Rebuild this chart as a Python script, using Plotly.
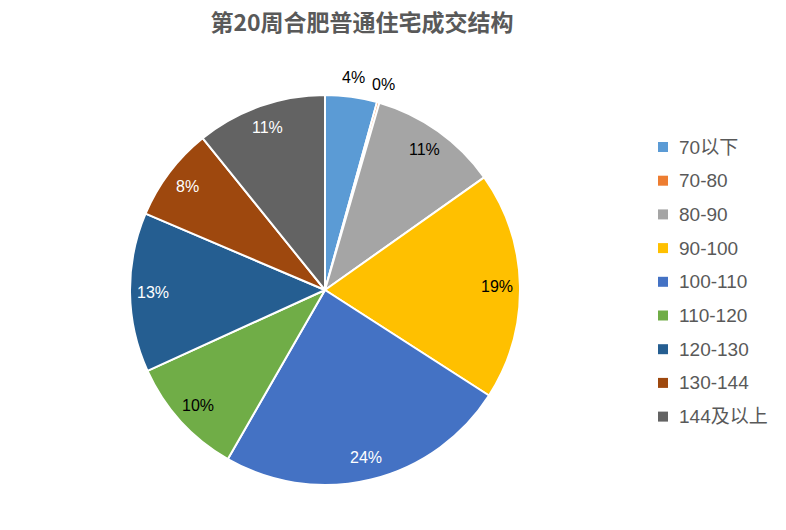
import numpy as np
import plotly.graph_objects as go

categories = ["70以下", "70-80", "80-90", "90-100", "100-110", "110-120", "120-130", "130-144", "144及以上"]
values = [4.3, 0.2, 10.7, 18.9, 24.2, 9.9, 13.2, 7.8, 10.8]
colors = ["#5B9BD5", "#ED7D31", "#A5A5A5", "#FFC000", "#4472C4", "#70AD47", "#255E91", "#9E480E", "#636363"]
label_colors = ["#000000", "#000000", "#000000", "#000000", "#FFFFFF", "#000000", "#FFFFFF", "#FFFFFF", "#FFFFFF"]
label_outside = [True, True, False, False, False, False, False, False, False]
title = "第20周合肥普通住宅成交结构"

W, H = 786, 530
cx, cy, R = 325, 290, 195
r_in, r_out = 172, 214

fig = go.Figure()
fig.add_trace(go.Pie(
    labels=categories, values=values, sort=False, direction="clockwise", rotation=0,
    marker=dict(colors=colors, line=dict(color="#FFFFFF", width=2)),
    textinfo="none", hoverinfo="label+percent", showlegend=False,
    domain=dict(x=[(cx - R) / W, (cx + R) / W], y=[(H - cy - R) / H, (H - cy + R) / H]),
))

total = sum(values)
cum = 0.0
annotations = []
for v, col, out in zip(values, label_colors, label_outside):
    mid = (cum + v / 2) / total
    cum += v
    th = 2 * np.pi * mid
    r = r_out if out else r_in
    px = cx + r * np.sin(th)
    py = cy - r * np.cos(th)
    annotations.append(dict(
        x=px / W, y=1 - py / H, xref="paper", yref="paper", showarrow=False,
        text=f"{round(v / total * 100):.0f}%", font=dict(size=16, color=col, family="Liberation Sans, Arial"),
        xanchor="center", yanchor="middle",
    ))

# legend drawn as markers + text
lx, ly0, lstep, msz = 658, 147, 33.7, 10
shapes = []
for i, (cat, col) in enumerate(zip(categories, colors)):
    yc = ly0 + i * lstep
    shapes.append(dict(type="rect", xref="paper", yref="paper",
                       x0=lx / W, x1=(lx + msz) / W, y0=1 - (yc + msz / 2) / H, y1=1 - (yc - msz / 2) / H,
                       fillcolor=col, line=dict(width=0)))
    annotations.append(dict(
        x=(lx + msz + 9) / W, y=1 - yc / H, xref="paper", yref="paper", showarrow=False,
        text=cat, xanchor="left", yanchor="middle",
        font=dict(size=19, color="#595959", family="Liberation Sans, Noto Sans CJK SC"),
    ))

fig.update_layout(
    width=W, height=H, margin=dict(l=0, r=0, t=0, b=0),
    paper_bgcolor="#FFFFFF", plot_bgcolor="#FFFFFF",
    title=dict(text=f"<b>{title}</b>", x=362 / W, xanchor="center", y=1 - 23 / H, yanchor="middle",
               font=dict(size=23, color="#595959", family="Noto Sans CJK SC")),
    annotations=annotations, shapes=shapes,
)
fig.write_html("out.html")
